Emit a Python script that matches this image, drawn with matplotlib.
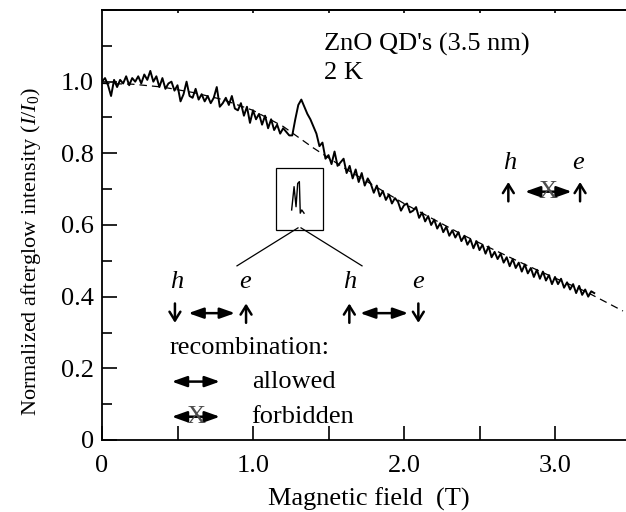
import numpy as np
import matplotlib
matplotlib.use("Agg")
import matplotlib.pyplot as plt
from matplotlib.patches import FancyArrowPatch, Rectangle
from matplotlib.ticker import MultipleLocator, FuncFormatter

plt.rcParams['font.family'] = ['Liberation Serif', 'DejaVu Sans']
plt.rcParams['mathtext.fontset'] = 'custom'
plt.rcParams['mathtext.rm'] = 'Liberation Serif'
plt.rcParams['mathtext.it'] = 'Liberation Serif:italic'

FS = 19

# measured afterglow, sampled every 0.02 T from 0 T
field_step = 0.02
afterglow = [
    1.00, 1.01, 0.99, 0.96, 1.005, 0.985, 1.005, 0.995, 1.015, 0.99,
    1.01, 1.0, 1.015, 0.995, 1.02, 1.005, 1.03, 1.0, 1.015, 0.985,
    1.01, 0.98, 0.995, 1.0, 0.975,
    0.99, 0.945, 0.965, 1.0, 0.96, 0.955, 0.98, 0.95, 0.965, 0.945,
    0.96, 0.94, 0.955, 0.985, 0.93, 0.94, 0.955, 0.935, 0.96, 0.925,
    0.92, 0.94, 0.905, 0.93, 0.885,
    0.92, 0.895, 0.91, 0.88, 0.905, 0.87, 0.895, 0.865, 0.88, 0.855,
    0.87, 0.86, 0.85,
    0.85, 0.895, 0.935, 0.95, 0.93, 0.91, 0.895, 0.875, 0.855, 0.82,
    0.83, 0.785,
    0.795, 0.77, 0.805, 0.765, 0.775, 0.785, 0.745, 0.765, 0.73, 0.755,
    0.72, 0.745, 0.71, 0.73, 0.715, 0.69, 0.71, 0.68, 0.695, 0.67,
    0.685, 0.66, 0.675, 0.665, 0.64, 0.655,
    0.66, 0.635, 0.64, 0.65, 0.62, 0.635, 0.61, 0.625, 0.60, 0.615,
    0.59, 0.605, 0.58, 0.595, 0.57, 0.585, 0.565, 0.58, 0.555, 0.57,
    0.545, 0.56, 0.535, 0.555, 0.53,
    0.545, 0.52, 0.54, 0.51, 0.525, 0.505, 0.52, 0.495, 0.51, 0.485,
    0.505, 0.48, 0.495, 0.47, 0.49, 0.465, 0.48, 0.455, 0.475, 0.45,
    0.47, 0.445, 0.46, 0.435, 0.455,
    0.435, 0.45, 0.425, 0.44, 0.42, 0.435, 0.41, 0.43, 0.405, 0.42,
    0.40, 0.415, 0.41,
]
field = np.round(np.arange(len(afterglow)) * field_step, 2)

# fitted curve (dashed)
fit_field = [0.0, 0.2, 0.4, 0.6, 0.8, 1.0, 1.2, 1.4, 1.6, 1.8, 2.0,
             2.2, 2.4, 2.6, 2.8, 3.0, 3.2, 3.45]
fit_afterglow = [0.995, 0.993, 0.985, 0.97, 0.95, 0.92, 0.875, 0.815,
                 0.76, 0.71, 0.66, 0.615, 0.57, 0.53, 0.49, 0.452,
                 0.415, 0.36]

# small resonance trace inside the box
inset_field = [1.256, 1.272, 1.285, 1.296, 1.307, 1.313, 1.323, 1.338]
inset_signal = [0.642, 0.707, 0.651, 0.716, 0.721, 0.633, 0.642, 0.633]

fig = plt.figure(figsize=(6.26, 5.12), dpi=100)
ax = fig.add_axes([102 / 626, 72 / 512, 528.5 / 626, 430 / 512])

ax.plot(field, afterglow, color='k', lw=1.4)
ax.plot(fit_field, fit_afterglow, color='k', lw=0.9, dashes=(6, 4))

# inset box with zoomed trace
ax.add_patch(Rectangle((1.152, 0.586), 0.312, 0.173, fill=False,
                       ec='k', lw=0.9))
ax.plot(inset_field, inset_signal, color='k', lw=1.0)
ax.plot([1.298, 0.894], [0.592, 0.486], color='k', lw=0.9)
ax.plot([1.318, 1.722], [0.592, 0.486], color='k', lw=0.9)


def double_arrow(x0, x1, y, forbidden=False):
    ax.add_patch(FancyArrowPatch((x0, y), (x1, y),
                                 arrowstyle='<|-|>,head_length=0.9,head_width=0.32',
                                 mutation_scale=10, lw=1.8, color='k',
                                 shrinkA=0, shrinkB=0))
    if forbidden:
        ax.text((x0 + x1) / 2, y, 'X', fontsize=FS, color='0.3',
                ha='center', va='center')


def spin(x, y, up=True):
    y0, y1 = y - 0.027, y + 0.027
    if not up:
        y0, y1 = y1, y0
    ax.add_patch(FancyArrowPatch((x, y0), (x, y1),
                                 arrowstyle='->,head_length=0.45,head_width=0.28',
                                 mutation_scale=14, lw=1.8, color='k',
                                 shrinkA=0, shrinkB=0))


def label(x, y, s):
    ax.text(x, y, s, fontsize=FS, ha='center', va='center', style='italic')


# allowed pair 1
label(0.495, 0.442, 'h')
label(0.947, 0.442, 'e')
spin(0.483, 0.354, up=False)
double_arrow(0.572, 0.881, 0.354)
spin(0.954, 0.354)

# allowed pair 2
label(1.642, 0.442, 'h')
label(2.095, 0.442, 'e')
spin(1.638, 0.354)
double_arrow(1.709, 2.028, 0.354)
spin(2.095, 0.354, up=False)

# forbidden pair
label(2.702, 0.772, 'h')
label(3.154, 0.772, 'e')
spin(2.691, 0.693)
double_arrow(2.801, 3.111, 0.693, forbidden=True)
spin(3.166, 0.693)

# key
ax.text(0.45, 0.256, 'recombination:', fontsize=FS, va='center')
double_arrow(0.462, 0.781, 0.163)
ax.text(0.991, 0.163, 'allowed', fontsize=FS, va='center')
double_arrow(0.462, 0.781, 0.065, forbidden=True)
ax.text(0.991, 0.065, 'forbidden', fontsize=FS, va='center')

ax.text(1.47, 1.105, "ZnO QD's (3.5 nm)", fontsize=FS, va='center')
ax.text(1.47, 1.024, '2 K', fontsize=FS, va='center')

ax.set_xlim(0, 3.5)
ax.set_ylim(0, 1.2)

ax.xaxis.set_major_locator(MultipleLocator(0.5))
ax.xaxis.set_major_formatter(FuncFormatter(
    lambda v, p: '0' if abs(v) < 1e-9 else ('%.1f' % v if abs(v - round(v)) < 1e-9 else '')))
ax.yaxis.set_major_locator(MultipleLocator(0.2))
ax.yaxis.set_minor_locator(MultipleLocator(0.1))
ax.yaxis.set_major_formatter(FuncFormatter(
    lambda v, p: '0' if abs(v) < 1e-9 else ('' if v > 1.05 else '%.1f' % v)))

ax.tick_params(axis='x', which='major', direction='in', length=10, width=1.2,
               labelsize=FS, pad=11)
ax.tick_params(axis='y', which='major', direction='in', length=11, width=1.2,
               labelsize=FS, pad=6)
ax.tick_params(axis='y', which='minor', direction='in', length=7, width=1.2)

sec = ax.secondary_xaxis('top')
sec.set_xticks(np.arange(0.5, 3.6, 0.5))
sec.tick_params(direction='in', length=2, width=1.2, labeltop=False)
for sp in ax.spines.values():
    sp.set_linewidth(1.3)
sec.spines['top'].set_linewidth(1.3)

ax.set_xlabel('Magnetic field  (T)', fontsize=FS)
ax.xaxis.set_label_coords(0.505, -0.11)
ax.set_ylabel('Normalized afterglow intensity ($I/I_0$)', fontsize=16)
ax.yaxis.set_label_coords(-0.112, 0.437)

fig.savefig('out.png', dpi=100)
